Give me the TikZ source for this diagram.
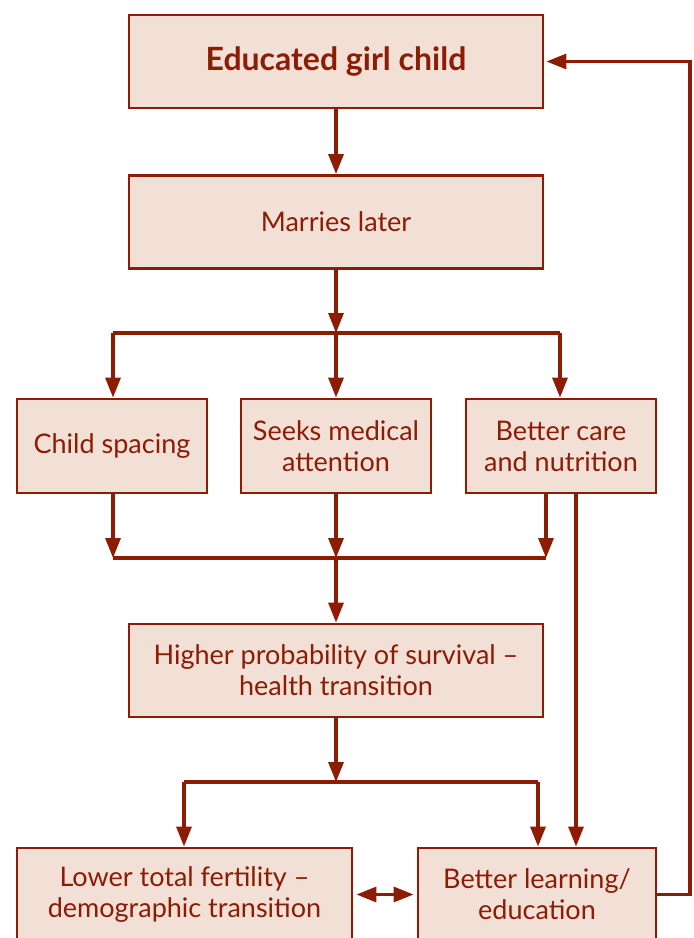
\documentclass[tikz,border=0pt]{standalone}
\usepackage{fontspec}
\setmainfont{Lato}
\usetikzlibrary{arrows.meta}
\definecolor{dred}{RGB}{140,28,4}
\definecolor{pfill}{RGB}{242,223,214}
\tikzset{
  box/.style={draw=dred, fill=pfill, line width=2.8pt, text=dred, align=center,
    inner sep=0pt, font=\fontsize{27}{31}\selectfont},
  conn/.style={draw=dred, line width=3.2pt},
  arr/.style={conn, -{Triangle[length=20pt,width=15pt]}},
  darr/.style={conn, {Triangle[length=20pt,width=15pt]}-{Triangle[length=20pt,width=15pt]}}
}
\begin{document}
\begin{tikzpicture}[x=1pt,y=-1pt]
\useasboundingbox (0,0) rectangle (694,938);
\node[box, minimum width=414pt, minimum height=93pt, font=\fontsize{32}{31}\selectfont\bfseries] (egc) at (336,61.5) {Educated girl child};
\node[box, minimum width=414pt, minimum height=93pt] (ml) at (336,222) {Marries later};
\node[box, minimum width=190pt, minimum height=94pt] (cs) at (112,446) {Child spacing};
\node[box, minimum width=190pt, minimum height=94pt] (sm) at (336,446) {Seeks medical\\attention};
\node[box, minimum width=190pt, minimum height=94pt] (bc) at (561,446) {Better care\\and nutrition};
\node[box, minimum width=414pt, minimum height=93pt] (hp) at (336,670.5) {Higher probability of survival --\\health transition};
\node[box, minimum width=335pt, minimum height=93pt] (lt) at (184.5,894.5) {Lower total fertility --\\demographic transition};
\node[box, minimum width=238pt, minimum height=93pt] (bl) at (537,894.5) {Better learning/\\education};

\coordinate (s1) at (336,333);
\coordinate (s1l) at (113,333);
\coordinate (s1r) at (560,333);
\coordinate (m1) at (336,558);
\coordinate (m1l) at (113,558);
\coordinate (m1r) at (546,558);
\coordinate (s2) at (336,782);
\coordinate (s2l) at (184,782);
\coordinate (s2r) at (538,782);
\coordinate (fb1) at (690,894.5);
\coordinate (fb2) at (690,61.5);

\draw[arr] (egc.south) -- (ml.north);
\draw[arr] (ml.south) -- (s1);
\draw[conn] (s1l) -- (s1r);
\draw[arr] (s1l) -- (s1l |- cs.north);
\draw[arr] (s1) -- (sm.north);
\draw[arr] (s1r) -- (s1r |- bc.north);

\draw[arr] (m1l |- cs.south) -- (m1l);
\draw[arr] (sm.south) -- (m1);
\draw[arr] (m1r |- bc.south) -- (m1r);
\draw[conn] (m1l) -- (m1r);
\draw[arr] (m1) -- (hp.north);

\draw[arr] (hp.south) -- (s2);
\draw[conn] (s2l) -- (s2r);
\draw[arr] (s2l) -- (s2l |- lt.north);
\draw[arr] (s2r) -- (s2r |- bl.north);
\draw[arr] ([xshift=15pt]bc.south) -- ([xshift=15pt]bc.south |- bl.north);

\draw[darr] ([xshift=3pt]lt.east) -- ([xshift=-3pt]bl.west);
\draw[arr] (bl.east) -- (fb1) -- (fb2) -- ([xshift=2pt]egc.east);
\end{tikzpicture}
\end{document}
